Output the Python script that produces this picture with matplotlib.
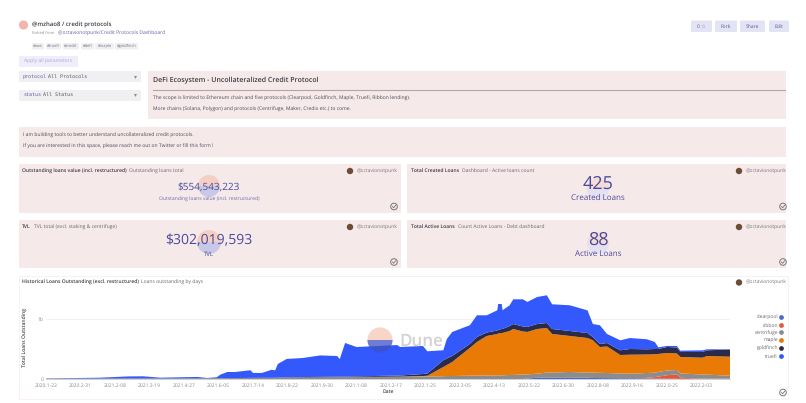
import matplotlib
matplotlib.use('Agg')
import matplotlib.pyplot as plt
from matplotlib.lines import Line2D
from matplotlib.patches import Circle, FancyBboxPatch, Rectangle, Wedge

plt.rcParams['font.family'] = ['Open Sans', 'DejaVu Sans']
plt.rcParams['text.hinting'] = 'no_hinting'
plt.rcParams['text.hinting_factor'] = 1

# loans outstanding, $M
days = [0, 61, 93, 110, 129, 171, 182, 193, 197, 205, 214, 231, 234, 244, 255, 259, 262, 272, 290, 310,
        329, 332, 338, 351, 397, 400, 426, 431, 449, 453, 459, 479, 487, 498, 510, 511, 515, 516, 524, 528,
        539, 544, 555, 566, 572, 592, 612, 618, 626, 634, 649, 660, 679, 688, 692, 702, 713, 717, 742, 747, 773]
clearpool = [0]*41 + [8, 20, 20, 20, 20, 20, 17, 15, 15, 13, 13, 10, 8, 7, 5, 3, 3, 2, 2, 2]
ribbon = [0]*52 + [8, 25, 33, 58, 75, 17, 5, 4, 3]
centrifuge = [5, 7, 8, 8, 8, 10, 10, 12, 12, 13, 13, 17, 17, 18, 18, 18, 20, 22, 25, 28,
              30, 30, 30, 33, 37, 37, 42, 42, 47, 50, 50, 55, 57, 58, 60, 60, 60, 62, 67, 68,
              75, 69, 68, 88, 88, 97, 88, 90, 88, 85, 79, 75, 82, 72, 77, 79, 72, 72, 68, 67, 50]
maple = [0]*24 + [3, 3, 8, 12, 153, 183, 233, 462, 560, 658, 690, 698, 707, 705, 733, 765,
                  717, 707, 745, 742, 642, 600, 575, 538, 430, 442, 308, 317, 308, 307, 300, 292, 275, 275, 280, 310, 317]
goldfinch = [2]*14 + [3, 3, 5, 5, 7, 7, 8, 8, 10, 10, 18, 18, 33, 38, 112, 108, 100, 67, 83, 58, 58, 58, 67, 67, 83, 83,
                      83, 83, 83, 83, 83, 83, 83, 55, 50, 58, 78, 95, 87, 88, 83, 100, 100, 83, 95, 95, 120]
truefi = [2, 13, 33, 35, 12, 22, 5, 15, 58, 102, 102, 127, 82, 81, 133, 123, 225, 307, 318, 358,
          345, 295, 560, 490, 508, 475, 467, 370, 167, 325, 400, 312, 362, 287, 337, 433, 417, 312, 345, 412,
          453, 417, 450, 462, 412, 428, 378, 217, 312, 150, 167, 183, 167, 117, 28, 17, 25, 22, 28, 17, 3]

series_names = ['clearpool', 'ribbon', 'centrifuge', 'maple', 'goldfinch', 'truefi']
series_colors = ['#4a68d8', '#e8553a', '#8c8c8c', '#e97a06', '#2b2b47', '#3358fb']

tick_labels = ['2020.1-22', '2020.2-31', '2021.2-08', '2021.3-19', '2021.4-27', '2021.6-05', '2021.7-14',
               '2021.8-22', '2021.9-30', '2021.1-08', '2021.2-17', '2022.1-25', '2022.3-05', '2022.4-13',
               '2022.5-22', '2022.6-30', '2022.8-08', '2022.9-16', '2022.0-25', '2022.2-03']
tick_days = [39*i for i in range(len(tick_labels))]

PANEL = '#f5e9e9'
INK = '#4a4a55'
PURPLE = '#4b4a9a'

fig = plt.figure(figsize=(8.06, 4.03), dpi=100)
page = fig.add_axes([0, 0, 1, 1])
page.set_xlim(0, 806)
page.set_ylim(403, 0)
page.axis('off')


def panel(x0, y0, x1, y1, color=PANEL):
    page.add_patch(Rectangle((x0, y0), x1-x0, y1-y0, fc=color, ec='none', zorder=1))


def chip(x0, y0, x1, y1, color):
    page.add_patch(FancyBboxPatch((x0+1, y0+1), x1-x0-2, y1-y0-2, boxstyle='round,pad=1', fc=color, ec='none', zorder=1))


def txt(x, y, s, size=3.6, color=INK, ha='left', weight='normal', **kw):
    page.text(x, y, s, fontsize=size, color=color, ha=ha, va='center', fontweight=weight, zorder=5, **kw)


def logo(x, y, r, bottom='#c9c8e6', top='#f6cfc4', ax=page, zorder=2):
    ax.add_patch(Wedge((x, y), r, 180, 360, fc=top, ec='none', zorder=zorder))
    ax.add_patch(Wedge((x, y), r, 0, 180, fc=bottom, ec='none', zorder=zorder))


def byline(x, y):
    page.add_patch(Circle((x, y), 3.2, fc='#6d4c35', ec='none', zorder=3))
    txt(x+6.5, y, '@octavionotpunk', size=3.9, color='#77777f')


def check(x, y):
    page.add_patch(Circle((x, y), 3.3, fc='none', ec='#777777', lw=0.7, zorder=3))
    page.plot([x-1.5, x-0.3, x+1.7], [y, y+1.3, y-1.3], color='#777777', lw=0.6, zorder=3)


# header
page.add_patch(Circle((23.5, 25), 4.6, fc='#f2b4ac', ec='none'))
txt(32, 25, '@mzhao8 / credit protocols', size=4, color='#3c3c44', weight='semibold')
txt(32, 33.3, 'forked from', size=3.05, color='#8a8a92')
txt(58, 33.3, '@octavionotpunk/Credit Protocols Dashboard', size=3.4, color='#5f5fa8')
for tag_x0, tag_x1, tag in [(32, 44, '#aws'), (46, 61, '#truefi'), (63, 79, '#credit'), (81, 94, '#defi'),
                            (95, 114, '#maple'), (115, 138, '#goldfinch')]:
    chip(tag_x0, 43, tag_x1, 49.5, '#f0f0f2')
    txt((tag_x0+tag_x1)/2, 46.2, tag, size=3, color='#77777f', ha='center')

chip(19, 56, 78, 67, '#efeefa')
txt(48.5, 61.8, 'Apply all parameters', size=3.9, color='#a9a8d6', ha='center')

for label_x0, label_x1, label in [(691, 712, '0 ☆'), (715, 737, 'Fork'), (740, 765, 'Share'), (769, 789, 'Edit')]:
    chip(label_x0, 20.5, label_x1, 32, '#e3e3f6')
    txt((label_x0+label_x1)/2, 26.2, label, size=3.9, color='#5b5b8e', ha='center')

# parameter dropdowns
for y0, name, value, value_x in [(71, 'protocol', 'All Protocols', 48), (89.5, 'status', 'All Status', 43)]:
    panel(19, y0, 141, y0+11, '#f0f0f2')
    txt(23, y0+5.5, name, size=3.4, color='#5f5fa8', family='DejaVu Sans Mono')
    txt(value_x, y0+5.5, value, size=3.4, color='#55555f', family='DejaVu Sans Mono')
    txt(135, y0+5.3, '▾', size=4, color='#8a8a92', ha='center')

# text panels
panel(148, 71, 786, 119)
txt(153, 81, 'DeFi Ecosystem - Uncollateralized Credit Protocol', size=5.1, color='#3c3c44', weight='semibold')
page.plot([153, 785], [90, 90], color='#b7a5a5', lw=0.8, zorder=3)
txt(153, 98.3, 'The scope is limited to Ethereum chain and five protocols (Clearpool, Goldfinch, Maple, Truefi, Ribbon lending).', size=3.65)
txt(153, 109.5, 'More chains (Solana, Polygon) and protocols (Centrifuge, Maker, Credix etc.) to come.', size=3.65)

panel(19, 127, 786, 157)
txt(23, 135, 'I am building tools to better understand uncollateralized credit protocols.', size=3.6)
txt(23, 146.8, 'If you are interested in this space, please reach me out on Twitter or fill this form !', size=3.6)

# counter panels
panel(19, 164, 401, 213)
panel(19, 220, 401, 268)
panel(407, 164, 786, 213)
panel(407, 220, 786, 268)

logo(209, 186, 11)
logo(209, 242, 12)
logo(598, 189, 11, bottom='#e4e0f0', top='#f6dcd6')
logo(598, 243, 11, bottom='#e4e0f0', top='#f6dcd6')

txt(22, 171, 'Outstanding loans value (incl. restructured)', size=3.6, color='#3c3c44', weight='semibold')
txt(129, 171, 'Outstanding loans total', size=3.8, color='#66666e')
txt(209, 187, '$554,543,223', size=7.2, color=PURPLE, ha='center')
txt(209, 199, 'Outstanding loans value (incl. restructured)', size=3.35, color=PURPLE, ha='center', alpha=0.8)

txt(22, 227, 'TVL', size=3.6, color='#3c3c44', weight='semibold')
txt(34.5, 227, 'TVL total (excl. staking & centrifuge)', size=3.8, color='#66666e')
txt(209, 241, '$302,019,593', size=9.8, color=PURPLE, ha='center')
txt(209, 254.5, 'TVL', size=4.6, color=PURPLE, ha='center')

txt(411, 171, 'Total Created Loans', size=3.6, color='#3c3c44', weight='semibold')
txt(461.5, 171, 'Dashboard - Active loans count', size=3.8, color='#66666e')
txt(598, 184, '425', size=13.2, color=PURPLE, ha='center')
txt(598, 198, 'Created Loans', size=6, color=PURPLE, ha='center')

txt(411, 227, 'Total Active Loans', size=3.6, color='#3c3c44', weight='semibold')
txt(457.5, 227, 'Count Active Loans - Debt dashboard', size=3.8, color='#66666e')
txt(598, 240, '88', size=13.2, color=PURPLE, ha='center')
txt(598, 253.5, 'Active Loans', size=6, color=PURPLE, ha='center')

for byline_x, byline_y in [(350, 171), (350, 227), (739, 171), (739, 227), (739, 282.5)]:
    byline(byline_x, byline_y)
for check_x, check_y in [(394, 206.5), (394, 262), (783, 206.5), (783, 262), (783, 392.5)]:
    check(check_x, check_y)

# chart card
page.add_patch(Rectangle((19, 276), 769, 123, fc='white', ec='#f8eeee', lw=0.6, zorder=1))
txt(22, 282.5, 'Historical Loans Outstanding (excl. restructured)', size=3.6, color='#3c3c44', weight='semibold')
txt(141, 282.5, 'Loans outstanding by days', size=3.8, color='#66666e')

ax = fig.add_axes([46/806, 1-379/403, 684/806, 89/403], zorder=2)
ax.patch.set_alpha(0)
ax.stackplot(days, clearpool, ribbon, centrifuge, maple, goldfinch, truefi, colors=series_colors, lw=0)
ax.set_xlim(0, 773)
ax.set_ylim(0, 1483)
ax.set_yticks([0, 1000], ['0', '1b'], fontsize=3.8, color='#8a8a92')
ax.set_xticks(tick_days, tick_labels, fontsize=3.6, color='#8a8a92')
ax.tick_params(axis='x', length=0, pad=3.2)
ax.tick_params(axis='y', length=0, pad=1.5)
ax.grid(axis='y', color='#f4eeee', lw=0.6)
ax.set_axisbelow(True)
for side in ['top', 'right', 'left']:
    ax.spines[side].set_visible(False)
ax.spines['bottom'].set_color('#c8c8c8')
ax.spines['bottom'].set_linewidth(0.6)
ax.set_xlabel('Date', fontsize=3.6, color='#44444c', fontweight='semibold', labelpad=0.3)
ax.set_ylabel('Total Loans Outstanding', fontsize=3.4, color='#44444c', fontweight='semibold')
ax.yaxis.set_label_coords(-18/684, 0.47)

handles = [Line2D([], [], ls='', marker='o', ms=2.4, color=c) for c in series_colors]
ax.legend(handles, series_names, loc='center right', bbox_to_anchor=(784/806, 1-337/403),
          bbox_transform=fig.transFigure, frameon=False, markerfirst=False, fontsize=3.9,
          labelcolor='#66666e', labelspacing=0.52, handletextpad=0.1, handlelength=1, borderpad=0, borderaxespad=0)

# dune watermark sits over the chart
over = fig.add_axes([0, 0, 1, 1], zorder=3)
over.set_xlim(0, 806)
over.set_ylim(403, 0)
over.axis('off')
logo(380, 340, 12.6, bottom='#4052c4', top='#f6cfbe', ax=over)
over.patches[0].set_alpha(0.85)
over.patches[1].set_alpha(0.75)
over.text(399, 341, 'Dune', fontsize=12.3, color='#9a9aa2', alpha=0.45, fontweight='semibold', va='center')

fig.savefig('out.png', dpi=100)
